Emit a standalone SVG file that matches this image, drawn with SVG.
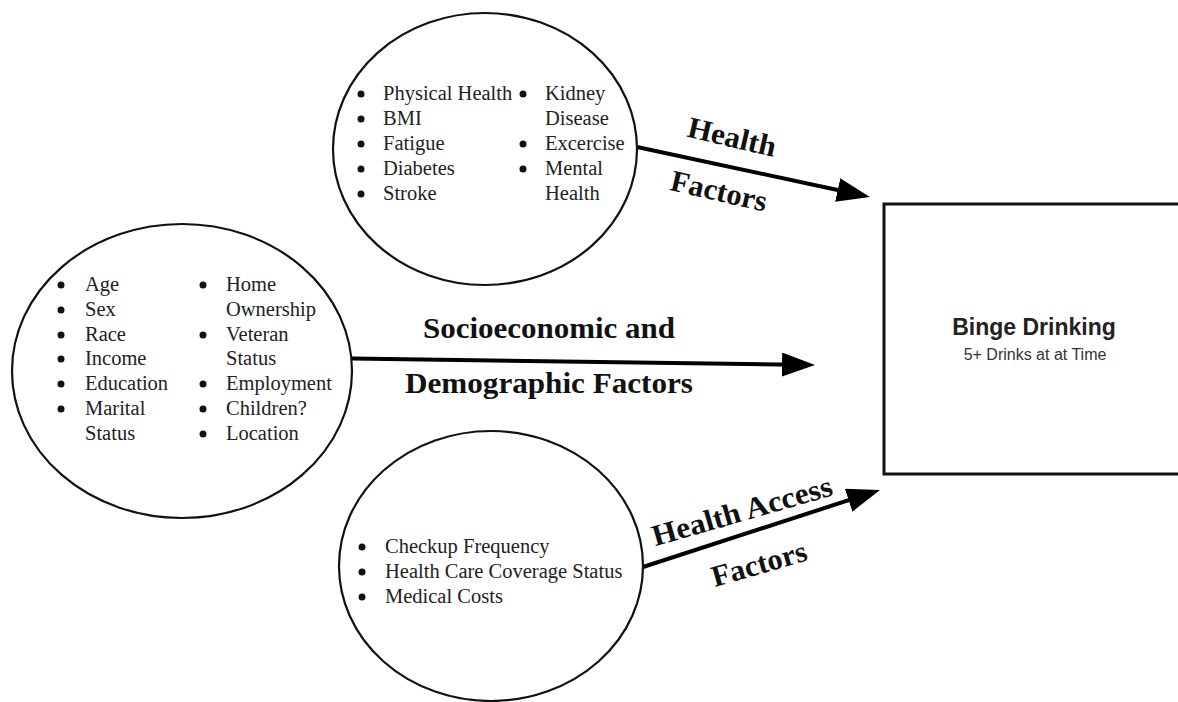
<svg xmlns="http://www.w3.org/2000/svg" width="1178" height="702" viewBox="0 0 1178 702">
  <style>
    .bubble { fill: #ffffff; stroke: #111111; stroke-width: 2.2; }
    .box { fill: #ffffff; stroke: #111111; stroke-width: 3; }
    .item { font-family: "Liberation Serif", "Times New Roman", serif; font-size: 20.5px; fill: #222222; }
    .dot { fill: #111111; }
    .label { font-family: "Liberation Serif", "Times New Roman", serif; font-size: 30px; font-weight: bold; fill: #111111; text-anchor: middle; }
    .link { fill: none; stroke: #000000; stroke-width: 4; }
    .title { font-family: "Liberation Sans", Arial, sans-serif; font-size: 23px; font-weight: bold; fill: #222222; text-anchor: middle; }
    .sub { font-family: "Liberation Sans", Arial, sans-serif; font-size: 16px; fill: #333333; text-anchor: middle; }
  </style>
  <defs>
    <marker id="head" viewBox="0 0 33 24" refX="13" refY="12" markerWidth="33" markerHeight="24" markerUnits="userSpaceOnUse" orient="auto">
      <path d="M0,0 L33,12 L0,24 Z" fill="#000000"/>
    </marker>
  </defs>

  <rect width="1178" height="702" fill="#ffffff"/>

  <!-- connectors -->
  <g id="connectors">
    <line class="link" x1="637" y1="147" x2="850.4" y2="192.8" marker-end="url(#head)"/>
    <line class="link" x1="352" y1="358.5" x2="795" y2="364.7" marker-end="url(#head)"/>
    <line class="link" x1="643" y1="567" x2="861" y2="496.2" marker-end="url(#head)"/>

    <g transform="translate(732,137) rotate(13)"><text class="label" x="0" y="10" textLength="90" lengthAdjust="spacingAndGlyphs">Health</text></g>
    <g transform="translate(719,191) rotate(13)"><text class="label" x="0" y="10" textLength="98" lengthAdjust="spacingAndGlyphs">Factors</text></g>

    <text class="label" x="549" y="338" textLength="252" lengthAdjust="spacingAndGlyphs">Socioeconomic and</text>
    <text class="label" x="549" y="393" textLength="288" lengthAdjust="spacingAndGlyphs">Demographic Factors</text>

    <g transform="translate(742,511) rotate(-16)"><text class="label" x="0" y="10" textLength="186" lengthAdjust="spacingAndGlyphs">Health Access</text></g>
    <g transform="translate(759,564) rotate(-16)"><text class="label" x="0" y="10" textLength="98" lengthAdjust="spacingAndGlyphs">Factors</text></g>
  </g>

  <!-- health factors -->
  <g id="health-factors">
    <ellipse class="bubble" cx="485" cy="149" rx="152" ry="136"/>
    <g>
      <circle class="dot" cx="361" cy="94" r="3.5"/><text class="item" x="383" y="100">Physical Health</text>
      <circle class="dot" cx="361" cy="119" r="3.5"/><text class="item" x="383" y="125">BMI</text>
      <circle class="dot" cx="361" cy="144" r="3.5"/><text class="item" x="383" y="150">Fatigue</text>
      <circle class="dot" cx="361" cy="169" r="3.5"/><text class="item" x="383" y="175">Diabetes</text>
      <circle class="dot" cx="361" cy="194" r="3.5"/><text class="item" x="383" y="200">Stroke</text>
    </g>
    <g>
      <circle class="dot" cx="523" cy="94" r="3.5"/><text class="item" x="545" y="100">Kidney</text>
      <text class="item" x="545" y="125">Disease</text>
      <circle class="dot" cx="523" cy="144" r="3.5"/><text class="item" x="545" y="150">Excercise</text>
      <circle class="dot" cx="523" cy="169" r="3.5"/><text class="item" x="545" y="175">Mental</text>
      <text class="item" x="545" y="200">Health</text>
    </g>
  </g>

  <!-- socioeconomic and demographic factors -->
  <g id="socio-factors">
    <ellipse class="bubble" cx="182" cy="371" rx="170" ry="147"/>
    <g>
      <circle class="dot" cx="61" cy="285" r="3.5"/><text class="item" x="85" y="291">Age</text>
      <circle class="dot" cx="61" cy="310" r="3.5"/><text class="item" x="85" y="316">Sex</text>
      <circle class="dot" cx="61" cy="335" r="3.5"/><text class="item" x="85" y="341">Race</text>
      <circle class="dot" cx="61" cy="359" r="3.5"/><text class="item" x="85" y="365">Income</text>
      <circle class="dot" cx="61" cy="384" r="3.5"/><text class="item" x="85" y="390">Education</text>
      <circle class="dot" cx="61" cy="409" r="3.5"/><text class="item" x="85" y="415">Marital</text>
      <text class="item" x="85" y="440">Status</text>
    </g>
    <g>
      <circle class="dot" cx="203" cy="285" r="3.5"/><text class="item" x="226" y="291">Home</text>
      <text class="item" x="226" y="316">Ownership</text>
      <circle class="dot" cx="203" cy="335" r="3.5"/><text class="item" x="226" y="341">Veteran</text>
      <text class="item" x="226" y="365">Status</text>
      <circle class="dot" cx="203" cy="384" r="3.5"/><text class="item" x="226" y="390">Employment</text>
      <circle class="dot" cx="203" cy="409" r="3.5"/><text class="item" x="226" y="415">Children?</text>
      <circle class="dot" cx="203" cy="434" r="3.5"/><text class="item" x="226" y="440">Location</text>
    </g>
  </g>

  <!-- health access factors -->
  <g id="access-factors">
    <ellipse class="bubble" cx="491" cy="566" rx="152" ry="135"/>
    <circle class="dot" cx="362" cy="547" r="3.5"/><text class="item" x="385" y="553">Checkup Frequency</text>
    <circle class="dot" cx="362" cy="572" r="3.5"/><text class="item" x="385" y="578">Health Care Coverage Status</text>
    <circle class="dot" cx="362" cy="597" r="3.5"/><text class="item" x="385" y="603">Medical Costs</text>
  </g>

  <!-- outcome -->
  <g id="binge-drinking">
    <rect class="box" x="884" y="204" width="300" height="270"/>
    <text class="title" x="1034" y="335">Binge Drinking</text>
    <text class="sub" x="1035" y="360">5+ Drinks at at Time</text>
  </g>
</svg>
